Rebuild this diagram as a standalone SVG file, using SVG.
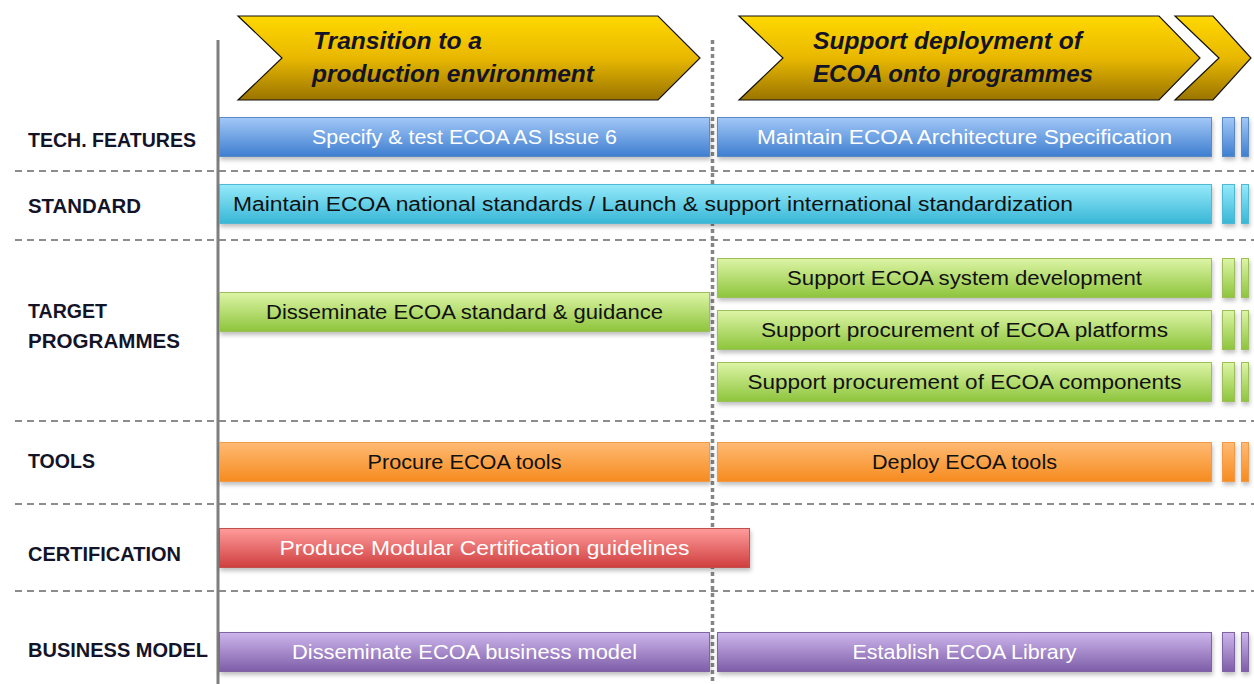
<svg xmlns="http://www.w3.org/2000/svg" width="1254" height="684" viewBox="0 0 1254 684">
<defs>
<linearGradient id="gGold" x1="0" y1="0" x2="0" y2="1"><stop offset="0" stop-color="#FFD800"/><stop offset="0.5" stop-color="#E8B800"/><stop offset="1" stop-color="#9A7400"/></linearGradient>
<linearGradient id="gBlue" x1="0" y1="0" x2="0" y2="1"><stop offset="0" stop-color="#A3C8F7"/><stop offset="1" stop-color="#3E7ED0"/></linearGradient>
<linearGradient id="gCyan" x1="0" y1="0" x2="0" y2="1"><stop offset="0" stop-color="#95EAFA"/><stop offset="1" stop-color="#38B6D6"/></linearGradient>
<linearGradient id="gGreen" x1="0" y1="0" x2="0" y2="1"><stop offset="0" stop-color="#DDF5A6"/><stop offset="1" stop-color="#8DC43C"/></linearGradient>
<linearGradient id="gOrange" x1="0" y1="0" x2="0" y2="1"><stop offset="0" stop-color="#FFBA74"/><stop offset="1" stop-color="#F68B1F"/></linearGradient>
<linearGradient id="gRed" x1="0" y1="0" x2="0" y2="1"><stop offset="0" stop-color="#FF9C9C"/><stop offset="1" stop-color="#CF3E3E"/></linearGradient>
<linearGradient id="gPurple" x1="0" y1="0" x2="0" y2="1"><stop offset="0" stop-color="#CDB6EC"/><stop offset="1" stop-color="#7E5DA8"/></linearGradient>
<filter id="sh" x="-5%" y="-20%" width="110%" height="160%"><feDropShadow dx="1" dy="3" stdDeviation="2" flood-color="#000" flood-opacity="0.25"/></filter>
</defs>
<style>
.lbl{font-family:"Liberation Sans",Arial,sans-serif;font-weight:bold;font-size:20px;fill:#141428}
.bt{font-family:"Liberation Sans",Arial,sans-serif;font-size:20px;text-anchor:middle}
.dk{fill:#111}
.wt{fill:#fff}
.ch{font-family:"Liberation Sans",Arial,sans-serif;font-weight:bold;font-style:italic;font-size:23px;fill:#141428}
.sep{stroke:#8c8c8c;stroke-width:2;stroke-dasharray:7,5;fill:none}
.blue{fill:url(#gBlue);stroke:#5A8AC6;stroke-width:1}
.cyan{fill:url(#gCyan);stroke:#4FB8D2;stroke-width:1}
.green{fill:url(#gGreen);stroke:#9CBF5A;stroke-width:1}
.orange{fill:url(#gOrange);stroke:#F39A4A;stroke-width:1}
.red{fill:url(#gRed);stroke:#C0504D;stroke-width:1}
.purple{fill:url(#gPurple);stroke:#8064A2;stroke-width:1}
.gold{fill:url(#gGold);stroke:#111;stroke-width:1.2}
</style>
<rect width="1254" height="684" fill="#fff"/>

<g id="separators">
<line class="sep" x1="15" y1="171" x2="1254" y2="171"/>
<line class="sep" x1="15" y1="240" x2="1254" y2="240"/>
<line class="sep" x1="15" y1="421" x2="1254" y2="421"/>
<line class="sep" x1="15" y1="504" x2="1254" y2="504"/>
<line class="sep" x1="15" y1="591" x2="1254" y2="591"/>
</g>

<g id="axes">
<line x1="218" y1="40" x2="218" y2="684" stroke="#7f7f7f" stroke-width="3"/>
<line x1="712.5" y1="40" x2="712.5" y2="684" stroke="#858585" stroke-width="3.5" stroke-dasharray="4,3"/>
</g>

<g id="phase1">
<polygon class="gold" points="238,16 658,16 700,58 658,100 238,100 282,58"/>
<text class="ch" x="313" y="49" textLength="169" lengthAdjust="spacingAndGlyphs">Transition to a</text>
<text class="ch" x="312" y="82" textLength="282" lengthAdjust="spacingAndGlyphs">production environment</text>
</g>
<g id="phase2">
<polygon class="gold" points="739,16 1159,16 1200,58 1159,100 739,100 783,58"/>
<polygon class="gold" points="1175,16 1213,16 1251,58 1213,100 1175,100 1219,58"/>
<text class="ch" x="813" y="49" textLength="269" lengthAdjust="spacingAndGlyphs">Support deployment of</text>
<text class="ch" x="813" y="82" textLength="280" lengthAdjust="spacingAndGlyphs">ECOA onto programmes</text>
</g>

<g id="labels">
<text class="lbl" x="28" y="147" textLength="168" lengthAdjust="spacingAndGlyphs">TECH. FEATURES</text>
<text class="lbl" x="28" y="213" textLength="113" lengthAdjust="spacingAndGlyphs">STANDARD</text>
<text class="lbl" x="28" y="318" textLength="79" lengthAdjust="spacingAndGlyphs">TARGET</text>
<text class="lbl" x="28" y="348" textLength="152" lengthAdjust="spacingAndGlyphs">PROGRAMMES</text>
<text class="lbl" x="28" y="468" textLength="67" lengthAdjust="spacingAndGlyphs">TOOLS</text>
<text class="lbl" x="28" y="561" textLength="153" lengthAdjust="spacingAndGlyphs">CERTIFICATION</text>
<text class="lbl" x="28" y="657" textLength="180" lengthAdjust="spacingAndGlyphs">BUSINESS MODEL</text>
</g>

<g id="tech" filter="url(#sh)">
<rect class="blue" x="219.5" y="117.5" width="490" height="39"/>
<rect class="blue" x="717.5" y="117.5" width="494" height="39"/>
<rect class="blue" x="1222.5" y="117.5" width="12" height="39"/>
<rect class="blue" x="1241.5" y="117.5" width="7" height="39"/>
</g>
<g id="tech-text">
<text class="bt wt" x="464.5" y="144" textLength="305" lengthAdjust="spacingAndGlyphs">Specify &amp; test ECOA AS Issue 6</text>
<text class="bt wt" x="964.5" y="144" textLength="415" lengthAdjust="spacingAndGlyphs">Maintain ECOA Architecture Specification</text>
</g>

<g id="standard" filter="url(#sh)">
<rect class="cyan" x="219.5" y="184.5" width="992" height="39"/>
<rect class="cyan" x="1222.5" y="184.5" width="12" height="39"/>
<rect class="cyan" x="1241.5" y="184.5" width="7" height="39"/>
</g>
<g id="standard-text">
<text class="bt dk" x="233" y="211" style="text-anchor:start" textLength="840" lengthAdjust="spacingAndGlyphs">Maintain ECOA national standards / Launch &amp; support international standardization</text>
</g>

<g id="target" filter="url(#sh)">
<rect class="green" x="219.5" y="292.5" width="490" height="39"/>
<rect class="green" x="717.5" y="258.5" width="494" height="39"/>
<rect class="green" x="1222.5" y="258.5" width="12" height="39"/>
<rect class="green" x="1241.5" y="258.5" width="7" height="39"/>
<rect class="green" x="717.5" y="310.5" width="494" height="39"/>
<rect class="green" x="1222.5" y="310.5" width="12" height="39"/>
<rect class="green" x="1241.5" y="310.5" width="7" height="39"/>
<rect class="green" x="717.5" y="362.5" width="494" height="39"/>
<rect class="green" x="1222.5" y="362.5" width="12" height="39"/>
<rect class="green" x="1241.5" y="362.5" width="7" height="39"/>
</g>
<g id="target-text">
<text class="bt dk" x="464.5" y="319" textLength="397" lengthAdjust="spacingAndGlyphs">Disseminate ECOA standard &amp; guidance</text>
<text class="bt dk" x="964.5" y="285" textLength="355" lengthAdjust="spacingAndGlyphs">Support ECOA system development</text>
<text class="bt dk" x="964.5" y="337" textLength="407" lengthAdjust="spacingAndGlyphs">Support procurement of ECOA platforms</text>
<text class="bt dk" x="964.5" y="389" textLength="434" lengthAdjust="spacingAndGlyphs">Support procurement of ECOA components</text>
</g>

<g id="tools" filter="url(#sh)">
<rect class="orange" x="219.5" y="442.5" width="490" height="39"/>
<rect class="orange" x="717.5" y="442.5" width="494" height="39"/>
<rect class="orange" x="1222.5" y="442.5" width="12" height="39"/>
<rect class="orange" x="1241.5" y="442.5" width="7" height="39"/>
</g>
<g id="tools-text">
<text class="bt dk" x="464.5" y="469" textLength="194" lengthAdjust="spacingAndGlyphs">Procure ECOA tools</text>
<text class="bt dk" x="964.5" y="469" textLength="185" lengthAdjust="spacingAndGlyphs">Deploy ECOA tools</text>
</g>

<g id="certification" filter="url(#sh)">
<rect class="red" x="219.5" y="528.5" width="530" height="39"/>
</g>
<g id="certification-text">
<text class="bt wt" x="484.5" y="555" textLength="410" lengthAdjust="spacingAndGlyphs">Produce Modular Certification guidelines</text>
</g>

<g id="business" filter="url(#sh)">
<rect class="purple" x="219.5" y="632.5" width="490" height="39"/>
<rect class="purple" x="717.5" y="632.5" width="494" height="39"/>
<rect class="purple" x="1222.5" y="632.5" width="12" height="39"/>
<rect class="purple" x="1241.5" y="632.5" width="7" height="39"/>
</g>
<g id="business-text">
<text class="bt wt" x="464.5" y="659" textLength="345" lengthAdjust="spacingAndGlyphs">Disseminate ECOA business model</text>
<text class="bt wt" x="964.5" y="659" textLength="224" lengthAdjust="spacingAndGlyphs">Establish ECOA Library</text>
</g>
</svg>
